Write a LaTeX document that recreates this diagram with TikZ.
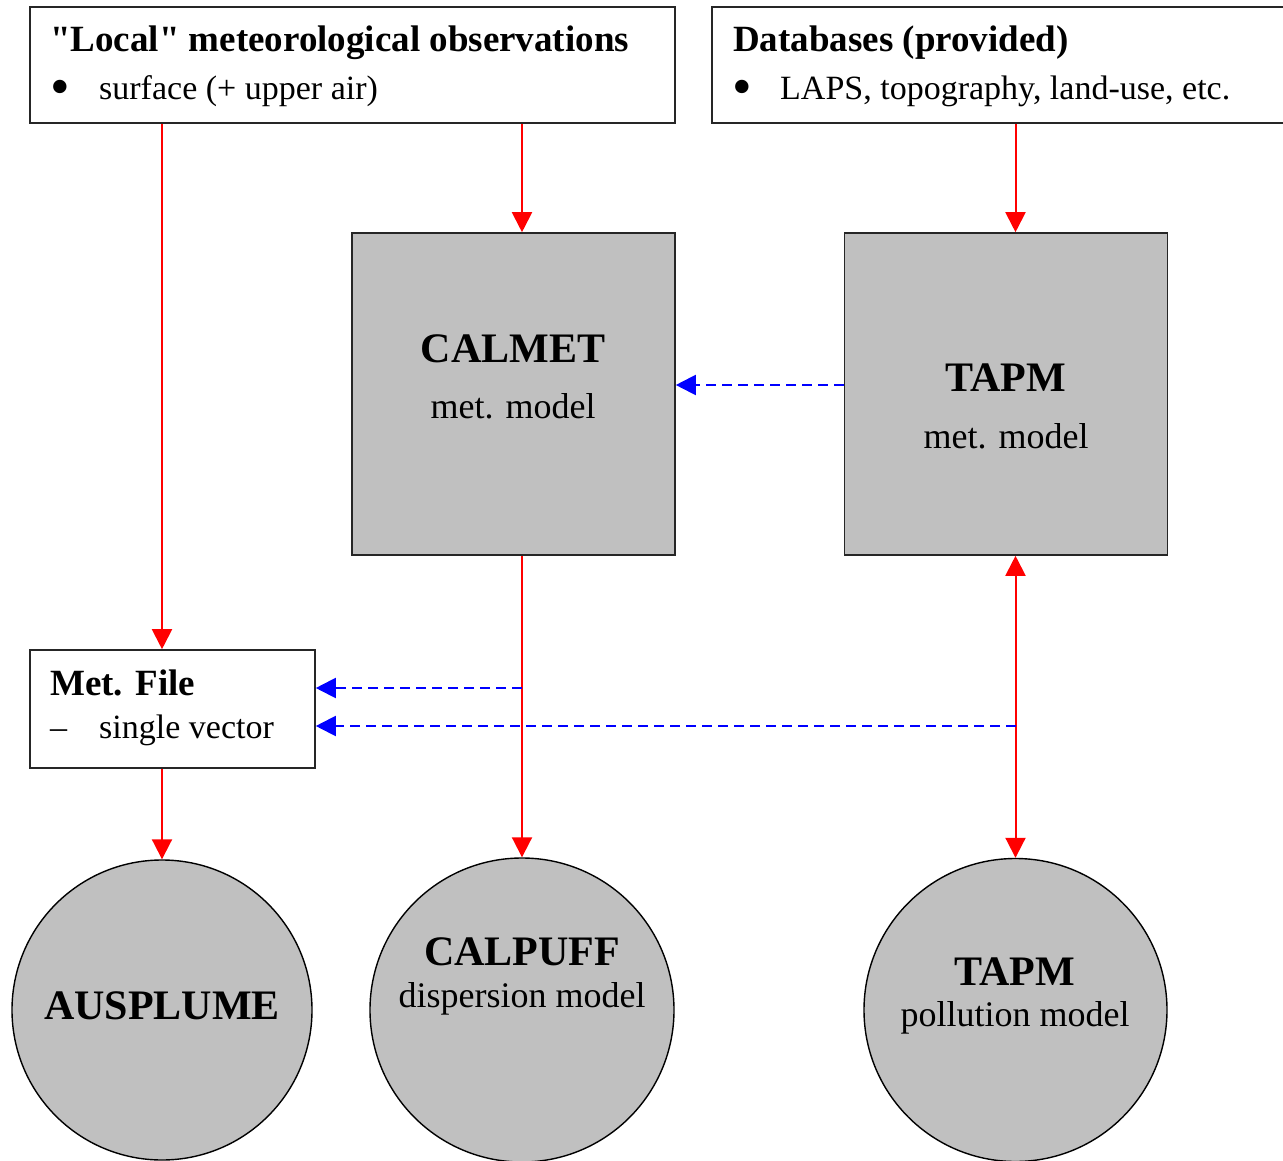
\documentclass[tikz,border=0pt]{standalone}
\usepackage{fontspec}
\setmainfont{Liberation Serif}
\usetikzlibrary{arrows.meta}
\definecolor{boxgray}{HTML}{C0C0C0}
\definecolor{arrred}{HTML}{FF0000}
\definecolor{arrblue}{HTML}{0000FF}
\tikzset{
  whitebox/.style={draw=black!85, line width=1.6pt, fill=white, rectangle, inner sep=0pt},
  graybox/.style={draw=black!85, line width=1.6pt, fill=boxgray, rectangle, inner sep=0pt, minimum width=323pt, minimum height=322pt},
  model/.style={draw=black, line width=1.4pt, fill=boxgray, circle, inner sep=0pt, minimum size=300pt},
  txt/.style={inner sep=0pt, anchor=base west},
  ctxt/.style={inner sep=0pt, anchor=base},
  redarrow/.style={draw=arrred, line width=2pt, -{Triangle[width=20pt,length=20pt]}},
  bluearrow/.style={draw=arrblue, line width=2pt, dash pattern=on 10pt off 6pt, -{Triangle[width=20pt,length=20pt]}},
  headfont/.style={font=\fontsize{37}{44}\selectfont\bfseries},
  itemfont/.style={font=\fontsize{34}{40}\selectfont},
  bulletfont/.style={font=\fontsize{56}{60}\selectfont},
  namefont/.style={font=\fontsize{42}{50}\selectfont\bfseries},
  subfont/.style={font=\fontsize{36}{43}\selectfont},
}
\begin{document}
\begin{tikzpicture}[x=1pt,y=-1pt]
\useasboundingbox (0,0) rectangle (1283,1161);
\clip (0,0) rectangle (1283,1161);

% boxes
\node[whitebox, minimum width=645pt, minimum height=116pt] (obs) at (352.5,65) {};
\node[whitebox, minimum width=588pt, minimum height=116pt] (db) at (1006,65) {};
\node[graybox] (calmet) at (513.5,394) {};
\node[graybox] (tapm) at (1006,394) {};
\node[whitebox, minimum width=285pt, minimum height=118pt] (met) at (172.5,709) {};

% circles
\node[model] (aus) at (162,1010) {};
\node[model, minimum size=304pt] (calpuff) at (522,1010) {};
\node[model, minimum size=303pt] (tapmc) at (1015.5,1010) {};

% texts
\node[txt, headfont] (t1) at (50,52) {\textquotedbl Local\textquotedbl{} meteorological observations};
\node[txt, bulletfont] (t1b) at (50,106) {•};
\node[txt, itemfont] (t1i) at (99,100) {surface (+ upper air)};
\node[txt, headfont] (t2) at (733,52) {Databases (provided)};
\node[txt, bulletfont] (t2b) at (732,106) {•};
\node[txt, itemfont] (t2i) at (780,100) {LAPS, topography, land-use, etc.};

\node[ctxt, namefont] (t3) at (513,362) {CALMET};
\node[ctxt, subfont] (t3s) at (513,418) {met. model};
\node[ctxt, namefont] (t4) at (1006,391) {TAPM};
\node[ctxt, subfont] (t4s) at (1006,448) {met. model};

\node[txt, headfont] (t5) at (50,695) {Met. File};
\node[txt, itemfont] (t5d) at (50,738) {–};
\node[txt, itemfont] (t5i) at (99,738) {single vector};

\node[ctxt, namefont] (t6) at (162,1019) {AUSPLUME};
\node[ctxt, namefont] (t7) at (522,965) {CALPUFF};
\node[ctxt, subfont] (t7s) at (522,1007) {dispersion model};
\node[ctxt, namefont] (t8) at (1015,985) {TAPM};
\node[ctxt, subfont] (t8s) at (1015,1026) {pollution model};

% red connectors
\draw[redarrow] (obs.south -| aus) -- (met.north -| aus);
\draw[redarrow] (obs.south -| calpuff) -- (calmet.north -| calpuff);
\draw[redarrow] (db.south -| tapmc) -- (tapm.north -| tapmc);
\draw[redarrow] (calmet.south -| calpuff) -- (calpuff.north);
\draw[redarrow] (met.south -| aus) -- (aus.north);
\draw[redarrow, {Triangle[width=20pt,length=20pt]}-{Triangle[width=20pt,length=20pt]}] (tapm.south -| tapmc) -- (tapmc.north);

% blue dashed connectors
\coordinate (c1) at ([yshift=9pt]tapm.west);
\coordinate (m1) at ([yshift=21pt]met.east);
\coordinate (m2) at ([yshift=-17pt]met.east);
\draw[bluearrow] (c1) -- (c1 -| calmet.east);
\draw[bluearrow] (m1 -| calpuff) -- (m1);
\draw[bluearrow] (m2 -| tapmc) -- (m2);
\end{tikzpicture}
\end{document}
